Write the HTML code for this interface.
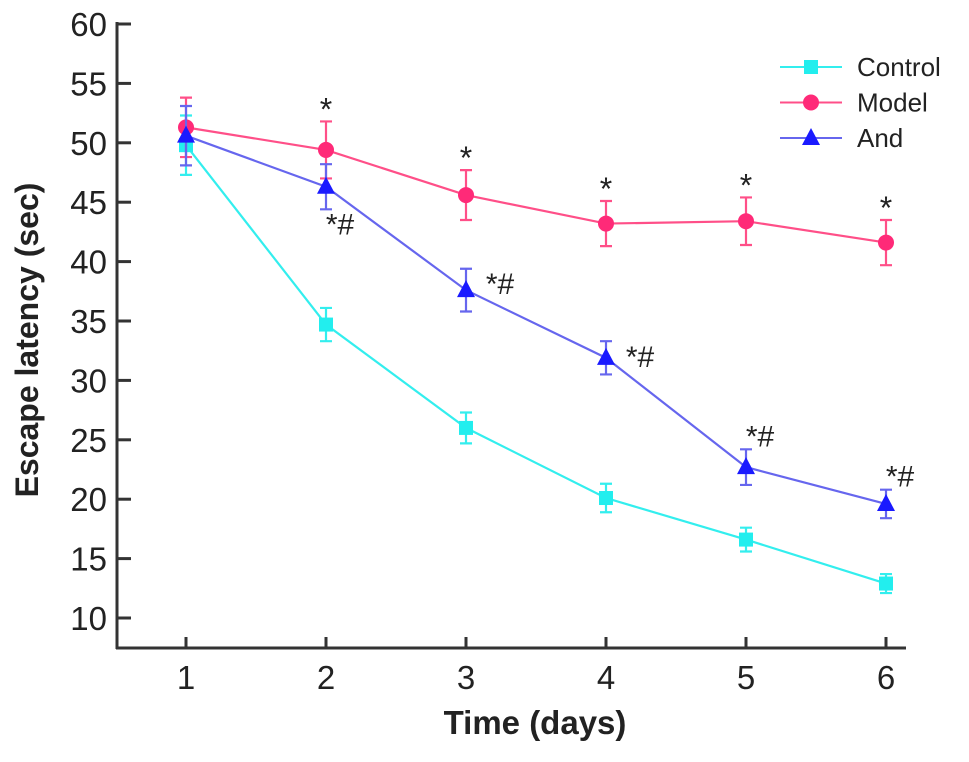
<!DOCTYPE html>
<html><head><meta charset="utf-8"><style>
body{margin:0;background:#fff}
svg text{font-family:"Liberation Sans",Arial,sans-serif;fill:#222}
</style></head><body>
<svg width="969" height="757" viewBox="0 0 969 757" xmlns="http://www.w3.org/2000/svg">
<g id="axes"></g><g id="plot"></g><g id="legend"></g>
<text x="535" y="734" font-size="33" font-weight="bold" text-anchor="middle">Time (days)</text>
<text transform="translate(38,340) rotate(-90)" font-size="32" font-weight="bold" text-anchor="middle">Escape latency (sec)</text>
</svg>
<script>
const days=[1,2,3,4,5,6];
const yTicks=[10,15,20,25,30,35,40,45,50,55,60];
const controlVals=[49.8,34.7,26.0,20.1,16.6,12.9];
const controlErr=[2.5,1.4,1.3,1.2,1.0,0.8];
const modelVals=[51.3,49.4,45.6,43.2,43.4,41.6];
const modelErr=[2.5,2.4,2.1,1.9,2.0,1.9];
const andVals=[50.6,46.3,37.6,31.9,22.7,19.6];
const andErr=[2.5,1.9,1.8,1.4,1.5,1.2];
const modelMarks=["","*","*","*","*","*"];
const andMarks=["","*#","*#","*#","*#","*#"];

const NS="http://www.w3.org/2000/svg";
const X=d=>186+(d-1)*140;
const Y=v=>24+(60-v)*11.88;
function mk(tag,attrs,parent){const e=document.createElementNS(NS,tag);for(const k in attrs)e.setAttribute(k,attrs[k]);parent.appendChild(e);return e;}
const axes=document.getElementById('axes'),plot=document.getElementById('plot'),legend=document.getElementById('legend');
let a=mk('line',{x1:117,y1:22,x2:117,y2:649,stroke:'#333','stroke-width':3},axes);

a=mk('line',{x1:116,y1:648,x2:906,y2:648,stroke:'#333','stroke-width':3},axes);

yTicks.forEach(t=>{
 const l=mk('line',{x1:117,y1:Y(t),x2:131,y2:Y(t),stroke:'#333','stroke-width':3},axes);
 
 const tx=mk('text',{x:107,y:Y(t)+12,'font-size':33,'text-anchor':'end'},axes);tx.textContent=t;
 
});
days.forEach(d=>{
 const l=mk('line',{x1:X(d),y1:648,x2:X(d),y2:637,stroke:'#333','stroke-width':3},axes);
 
 const tx=mk('text',{x:X(d),y:689,'font-size':33,'text-anchor':'middle'},axes);tx.textContent=d;
 
});
function marker(type,x,y,col,parent){
 if(type==='sq')return mk('rect',{x:x-7,y:y-7,width:14,height:14,fill:col},parent);
 if(type==='ci')return mk('circle',{cx:x,cy:y,r:8,fill:col},parent);
 return mk('polygon',{points:`${x},${y-10} ${x-9},${y+7} ${x+9},${y+7}`,fill:col},parent);
}
const series=[
 {name:'control',vals:controlVals,err:controlErr,line:'#33eeee',col:'#22eeee',m:'sq'},
 {name:'model',vals:modelVals,err:modelErr,line:'#ff4f88',col:'#ff2a78',m:'ci'},
 {name:'and',vals:andVals,err:andErr,line:'#6666ee',col:'#1a1aff',m:'tri'}];
series.forEach(s=>{
 const g=mk('g',{},plot);
 
 const p=mk('polyline',{points:days.map((d,i)=>X(d)+','+Y(s.vals[i])).join(' '),fill:'none',stroke:s.line,'stroke-width':2.2},g);
 
 days.forEach((d,i)=>{
  const x=X(d),y1=Y(s.vals[i]+s.err[i]),y2=Y(s.vals[i]-s.err[i]);
  const e=mk('path',{d:`M${x},${y1}V${y2}M${x-6},${y1}H${x+6}M${x-6},${y2}H${x+6}`,stroke:s.line,'stroke-width':2.2,fill:'none'},g);
  
  const m=marker(s.m,x,Y(s.vals[i]),s.col,g);
  
 });
});
days.forEach((d,i)=>{
 if(modelMarks[i]){const t=mk('text',{x:X(d),y:Y(modelVals[i]+modelErr[i])-1,'font-size':32,'text-anchor':'middle'},plot);t.textContent=modelMarks[i];
  }
 if(andMarks[i]){let x,y;
  if(d===2){x=X(d)+14;y=Y(andVals[i]-andErr[i])+25;}
  else if(d<=4){x=X(d)+34;y=Y(andVals[i])+4;}
  else {x=X(d)+14;y=Y(andVals[i]+andErr[i])-3;}
  if(d===4)y=Y(andVals[i])+9;
  const t=mk('text',{x:x,y:y,'font-size':30,'text-anchor':'middle'},plot);t.textContent=andMarks[i];
  }
});
const legItems=[['Control',0],['Model',1],['And',2]];
legItems.forEach(([lab,k],i)=>{
 const s=series[k],y=67+i*35.5;
 const g=mk('g',{},legend);
 
 mk('line',{x1:780,y1:y,x2:842,y2:y,stroke:s.line,'stroke-width':2},g);
 marker(s.m,811,y,s.col,g);
 const t=mk('text',{x:857,y:y+9,'font-size':26},g);t.textContent=lab;
});
</script>
</body></html>
